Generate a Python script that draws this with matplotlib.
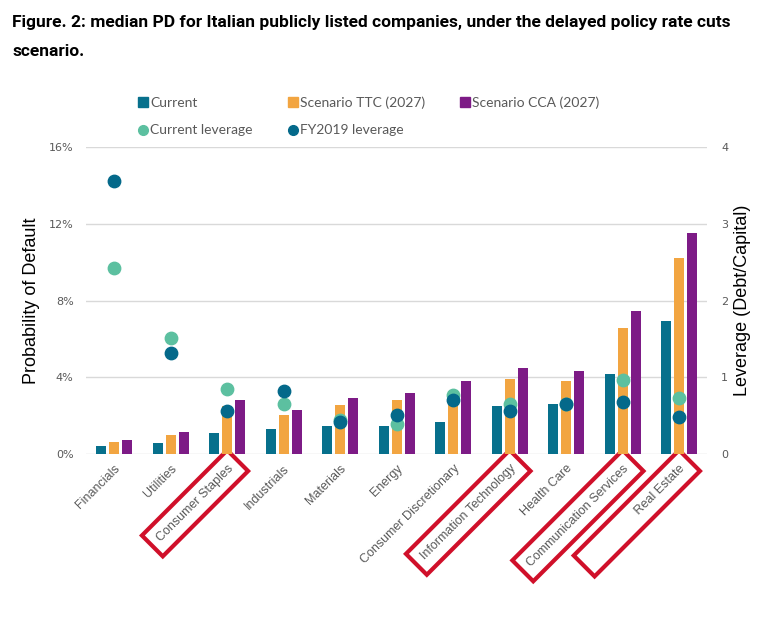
import numpy as np
import matplotlib.pyplot as plt
from matplotlib.lines import Line2D

sectors = ['Financials', 'Utilities', 'Consumer Staples', 'Industrials', 'Materials',
           'Energy', 'Consumer Discretionary', 'Information Technology', 'Health Care',
           'Communication Services', 'Real Estate']

# median PD (%)
pd_current = [0.45, 0.59, 1.13, 1.32, 1.46, 1.46, 1.68, 2.53, 2.60, 4.18, 6.96]
pd_ttc = [0.64, 1.02, 2.52, 2.03, 2.57, 2.81, 3.30, 3.92, 3.80, 6.58, 10.23]
pd_cca = [0.76, 1.18, 2.85, 2.33, 2.95, 3.21, 3.80, 4.48, 4.32, 7.46, 11.53]

# leverage (debt/capital)
lev_current = [2.43, 1.52, 0.85, 0.66, 0.45, 0.40, 0.77, 0.65, 0.66, 0.97, 0.73]
lev_fy2019 = [3.56, 1.32, 0.56, 0.82, 0.42, 0.51, 0.70, 0.56, 0.66, 0.68, 0.48]

highlighted = ['Consumer Staples', 'Information Technology', 'Communication Services', 'Real Estate']

c_cur = '#07708c'
c_ttc = '#f2a541'
c_cca = '#7d1b86'
c_lev = '#5cc0a0'
c_fy = '#04698a'
grey = '#595959'

fig = plt.figure(figsize=(7.68, 6.18), dpi=100)
ax = fig.add_axes([0.112, 0.265, 0.809, 0.497])
ax2 = ax.twinx()

x = np.arange(len(sectors))
w = 0.18
step = 0.23
ax.bar(x - step, np.array(pd_current) / 100, w, color=c_cur, zorder=2)
ax.bar(x, np.array(pd_ttc) / 100, w, color=c_ttc, zorder=2)
ax.bar(x + step, np.array(pd_cca) / 100, w, color=c_cca, zorder=2)

ax2.scatter(x, lev_current, s=80, color=c_lev, zorder=3)
ax2.scatter(x, lev_fy2019, s=80, color=c_fy, zorder=4)

ax.set_xlim(-0.5, len(sectors) - 0.5)
ax.set_ylim(0, 0.16)
ax.set_yticks([0, 0.04, 0.08, 0.12, 0.16])
ax.set_yticklabels(['0%', '4%', '8%', '12%', '16%'])
ax2.set_ylim(0, 4)
ax2.set_yticks([0, 1, 2, 3, 4])
ax.grid(axis='y', color='#d9d9d9', lw=1, zorder=0)
ax.set_axisbelow(True)

for a in (ax, ax2):
    for s in a.spines.values():
        s.set_visible(False)
    a.tick_params(length=0, colors=grey, labelsize=8)

ax.tick_params(axis='y', pad=9)
ax2.tick_params(axis='y', pad=10)

ax.set_xticks(x)
# the Real Estate box in the original is drawn longer than its label
labels = [(' ' * 19 + s) if s == 'Real Estate' else s for s in sectors]
ax.set_xticklabels(labels, rotation=45, ha='right', rotation_mode='anchor',
                   fontsize=9, color=grey, family='Liberation Sans')
ax.tick_params(axis='x', pad=6)
for lab, s in zip(ax.get_xticklabels(), sectors):
    if s in highlighted:
        lab.set_bbox(dict(boxstyle='square,pad=0.7', fc='none', ec='#d0102a', lw=3))

ax.set_ylabel('Probability of Default', fontsize=13, family='Liberation Sans', labelpad=6)
ax2.set_ylabel('Leverage (Debt/Capital)', fontsize=13, family='Liberation Sans', labelpad=4)

handles = [
    Line2D([], [], marker='s', ls='none', color=c_cur, markersize=7, label='Current'),
    Line2D([], [], marker='o', ls='none', color=c_lev, markersize=7, label='Current leverage'),
    Line2D([], [], marker='s', ls='none', color=c_ttc, markersize=7, label='Scenario TTC (2027)'),
    Line2D([], [], marker='o', ls='none', color=c_fy, markersize=7, label='FY2019 leverage'),
    Line2D([], [], marker='s', ls='none', color=c_cca, markersize=7, label='Scenario CCA (2027)'),
]
leg = fig.legend(handles=handles, ncol=3, loc='upper left', bbox_to_anchor=(0.165, 0.864),
                 frameon=False, handlelength=0.6, handletextpad=0.2, columnspacing=2.6,
                 labelspacing=1.1, prop={'family': 'Lato', 'size': 10})
for t in leg.get_texts():
    t.set_color(grey)

fig.text(0.016, 0.963, 'Figure. 2: median PD for Italian publicly listed companies, under the delayed policy rate cuts',
         fontsize=12.5, fontweight='bold', family='Roboto', va='center')
fig.text(0.016, 0.917, 'scenario.', fontsize=12.5, fontweight='bold', family='Roboto', va='center')

fig.savefig('out.png', dpi=100)
